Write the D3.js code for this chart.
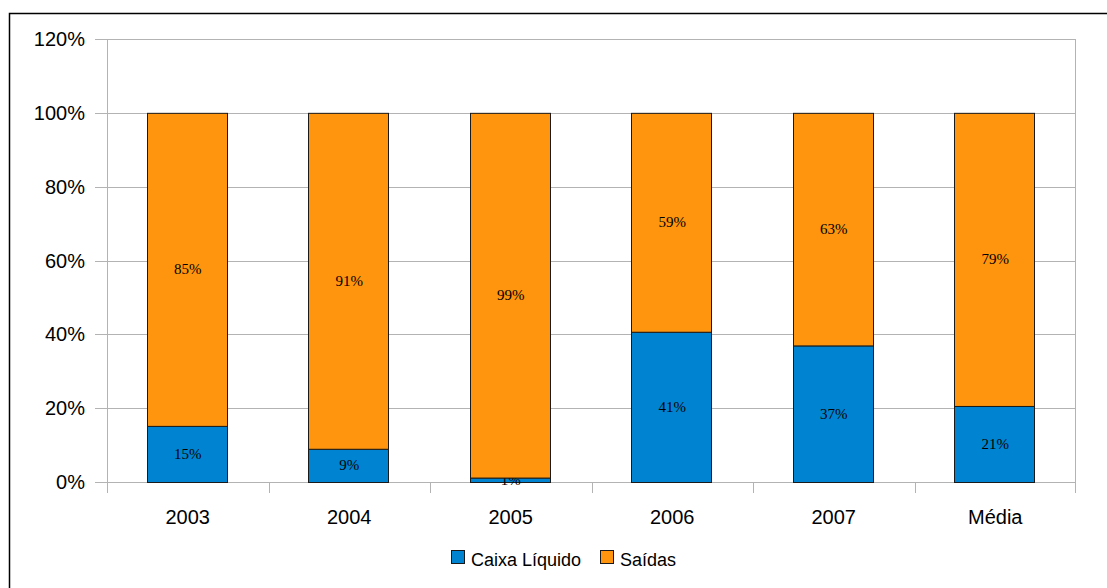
<!DOCTYPE html>
<html>
<head>
<meta charset="utf-8">
<script src="https://cdn.jsdelivr.net/npm/d3@7"></script>
<style>
  body { margin: 0; background: #fff; }
  svg { display: block; }
</style>
</head>
<body>
<div id="chart"></div>
<script>
// data
const categories = ["2003", "2004", "2005", "2006", "2007", "Média"];
const caixaLiquido = [15.2, 9.0, 1.2, 40.7, 37.0, 20.6];
const saidas = [84.8, 91.0, 98.8, 59.3, 63.0, 79.4];
const yTicks = [0, 20, 40, 60, 80, 100, 120];
const series = [
  { name: "Caixa Líquido", values: caixaLiquido, color: "#0084d1" },
  { name: "Saídas", values: saidas, color: "#ff950e" },
];

const width = 1107, height = 588;
const padding = { top: 39, left: 107, right: 31, bottom: 106 };
const innerWidth = width - padding.left - padding.right;
const innerHeight = height - padding.top - padding.bottom;

const svg = d3.select("#chart").append("svg").attr("width", width).attr("height", height);

// outer frame (top and left only, the rest is cut off)
svg.append("path")
  .attr("d", `M9.5,${height} V13.5 H${width}`)
  .attr("fill", "none")
  .attr("stroke", "#000")
  .attr("stroke-width", 1.5);

const g = svg.append("g").attr("transform", `translate(${padding.left}, ${padding.top})`);

const x = d3.scaleBand().domain(categories).range([0, innerWidth]).paddingInner(0).paddingOuter(0);
const y = d3.scaleLinear().domain([0, 120]).range([innerHeight, 0]);

// grid lines
g.append("g")
  .selectAll("line")
  .data(yTicks)
  .join("line")
  .attr("x1", -12)
  .attr("x2", innerWidth)
  .attr("y1", (d) => Math.round(y(d)) + 0.5)
  .attr("y2", (d) => Math.round(y(d)) + 0.5)
  .attr("stroke", "#b3b3b3");

// plot side borders
g.append("line").attr("x1", 0.5).attr("x2", 0.5).attr("y1", 0).attr("y2", innerHeight + 11).attr("stroke", "#b3b3b3");
g.append("line").attr("x1", innerWidth - 0.5).attr("x2", innerWidth - 0.5).attr("y1", 0).attr("y2", innerHeight + 11).attr("stroke", "#b3b3b3");

// category boundary ticks
g.append("g")
  .selectAll("line")
  .data(categories.slice(1))
  .join("line")
  .attr("x1", (d) => Math.round(x(d)) + 0.5)
  .attr("x2", (d) => Math.round(x(d)) + 0.5)
  .attr("y1", innerHeight)
  .attr("y2", innerHeight + 11)
  .attr("stroke", "#b3b3b3");

// y labels
g.append("g")
  .selectAll("text")
  .data(yTicks)
  .join("text")
  .attr("x", -22)
  .attr("y", (d) => y(d) + 7)
  .attr("text-anchor", "end")
  .attr("font-family", "'Liberation Sans', Arial, sans-serif")
  .attr("font-size", 20)
  .text((d) => d + "%");

// x labels
g.append("g")
  .selectAll("text")
  .data(categories)
  .join("text")
  .attr("x", (d) => x(d) + x.bandwidth() / 2)
  .attr("y", innerHeight + 42)
  .attr("text-anchor", "middle")
  .attr("font-family", "'Liberation Sans', Arial, sans-serif")
  .attr("font-size", 20)
  .text((d) => d);

// stacked bars
const rows = categories.map((c, i) => {
  const r = { cat: c };
  series.forEach((s) => (r[s.name] = s.values[i]));
  return r;
});
const stack = d3.stack().keys(series.map((s) => s.name))(rows);
const barW = Math.round(x.bandwidth() * 0.5) - 1;

stack.forEach((layer, si) => {
  const lg = g.append("g");
  lg.selectAll("rect")
    .data(layer)
    .join("rect")
    .attr("x", (d) => Math.round(x(d.data.cat) + (x.bandwidth() - barW) / 2) - 0.5)
    .attr("y", (d) => y(d[1]) + 0.5)
    .attr("width", barW)
    .attr("height", (d) => y(d[0]) - y(d[1]))
    .attr("fill", series[si].color)
    .attr("stroke", "#1a1a1a")
    .attr("stroke-width", 1);
  lg.selectAll("text")
    .data(layer)
    .join("text")
    .attr("x", (d) => x(d.data.cat) + x.bandwidth() / 2)
    .attr("y", (d) => y((d[0] + d[1]) / 2) + 5)
    .attr("text-anchor", "middle")
    .attr("font-family", "'Liberation Serif', 'Times New Roman', serif")
    .attr("font-size", 15)
    .attr("fill", "#000")
    .text((d) => Math.round(d[1] - d[0]) + "%");
});

// legend
const legend = svg.append("g").attr("transform", "translate(451, 550)");
const items = [
  { x: 0, s: series[0] },
  { x: 149, s: series[1] },
];
items.forEach((it) => {
  legend.append("rect")
    .attr("x", it.x + 0.5)
    .attr("y", 0.5)
    .attr("width", 13)
    .attr("height", 13)
    .attr("fill", it.s.color)
    .attr("stroke", "#1a1a1a");
  legend.append("text")
    .attr("x", it.x + 20)
    .attr("y", 16)
    .attr("font-family", "'Liberation Sans', Arial, sans-serif")
    .attr("font-size", 18)
    .text(it.s.name);
});
</script>
</body>
</html>
